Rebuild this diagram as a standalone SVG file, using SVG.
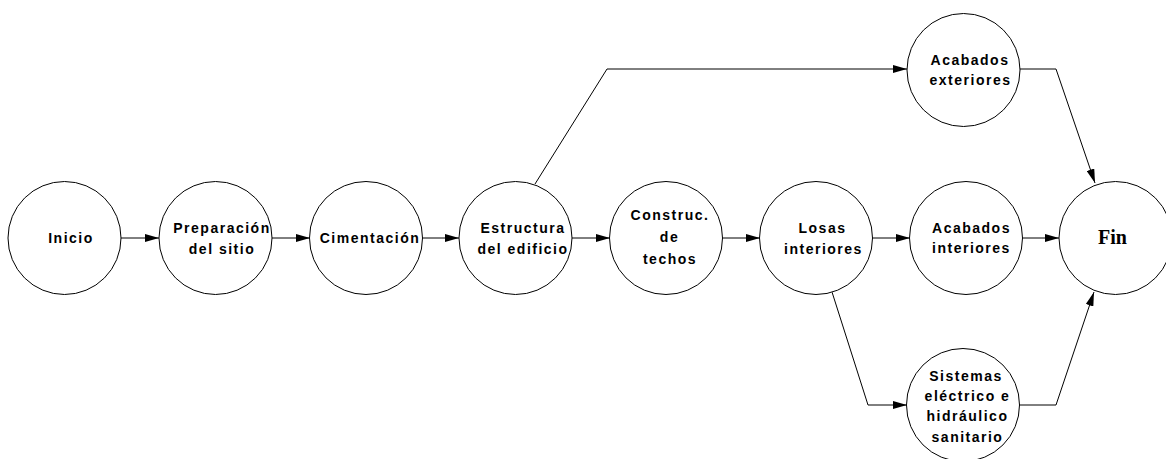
<svg xmlns="http://www.w3.org/2000/svg" width="1166" height="459" viewBox="0 0 1166 459">
  <style>
    .node circle { fill: #ffffff; stroke: #000000; stroke-width: 1; }
    .lbl { font-family: "Liberation Sans", Arial, sans-serif; font-weight: bold; font-size: 14px; letter-spacing: 1.5px; fill: #000000; text-anchor: middle; }
    .fin { font-family: "Liberation Serif", "Times New Roman", serif; font-weight: bold; font-size: 20px; fill: #000000; text-anchor: middle; }
    .edge { fill: none; stroke: #000000; stroke-width: 1; marker-end: url(#arrow); }
  </style>
  <defs>
    <marker id="arrow" viewBox="0 0 14 8" refX="14" refY="4" markerWidth="14" markerHeight="8" markerUnits="userSpaceOnUse" orient="auto">
      <path d="M0,0 L14,4 L0,8 Z" fill="#000000"/>
    </marker>
  </defs>
  <rect width="1166" height="459" fill="#ffffff"/>

  <!-- connectors -->
  <g id="connectors">
    <path class="edge" d="M121,238 H159"/>
    <path class="edge" d="M272,238 H310"/>
    <path class="edge" d="M422,238 H459"/>
    <path class="edge" d="M572,238 H610"/>
    <path class="edge" d="M722,238 H760"/>
    <path class="edge" d="M872,238 H910"/>
    <path class="edge" d="M1022,238 H1059"/>
    <path class="edge" d="M535,184 L607,69 H907"/>
    <path class="edge" d="M1020,69 H1056 L1095,183"/>
    <path class="edge" d="M832,292 L868,405 H907"/>
    <path class="edge" d="M1019,405 H1056 L1094,292"/>
  </g>

  <!-- activity nodes -->
  <g id="inicio" class="node">
    <circle cx="64.5" cy="238" r="56.5"/>
    <text class="lbl" x="71" y="243">Inicio</text>
  </g>
  <g id="preparacion" class="node">
    <circle cx="215.5" cy="238" r="56.5"/>
    <text class="lbl" x="222" y="233">Preparación</text>
    <text class="lbl" x="222" y="254">del sitio</text>
  </g>
  <g id="cimentacion" class="node">
    <circle cx="366" cy="238" r="56.5"/>
    <text class="lbl" x="370" y="243">Cimentación</text>
  </g>
  <g id="estructura" class="node">
    <circle cx="515.5" cy="238" r="56.5"/>
    <text class="lbl" x="523" y="233">Estructura</text>
    <text class="lbl" x="523" y="254">del edificio</text>
  </g>
  <g id="techos" class="node">
    <circle cx="666" cy="238" r="56.5"/>
    <text class="lbl" x="670" y="220">Construc.</text>
    <text class="lbl" x="669.5" y="242">de</text>
    <text class="lbl" x="670" y="264">techos</text>
  </g>
  <g id="losas" class="node">
    <circle cx="816" cy="238" r="56.5"/>
    <text class="lbl" x="822.5" y="233">Losas</text>
    <text class="lbl" x="823.5" y="254">interiores</text>
  </g>
  <g id="acabados-exteriores" class="node">
    <circle cx="963.5" cy="70" r="56.5"/>
    <text class="lbl" x="970" y="65">Acabados</text>
    <text class="lbl" x="970.5" y="85">exteriores</text>
  </g>
  <g id="acabados-interiores" class="node">
    <circle cx="966" cy="238" r="56.5"/>
    <text class="lbl" x="971.5" y="233">Acabados</text>
    <text class="lbl" x="971.5" y="253">interiores</text>
  </g>
  <g id="sistemas" class="node">
    <circle cx="963" cy="405" r="56.5"/>
    <text class="lbl" x="966" y="381">Sistemas</text>
    <text class="lbl" x="967.5" y="401">eléctrico e</text>
    <text class="lbl" x="967.5" y="421">hidráulico</text>
    <text class="lbl" x="967.5" y="442">sanitario</text>
  </g>
  <g id="fin" class="node">
    <circle cx="1115.5" cy="238" r="56.5"/>
    <text class="fin" x="1112.5" y="244">Fin</text>
  </g>
</svg>
